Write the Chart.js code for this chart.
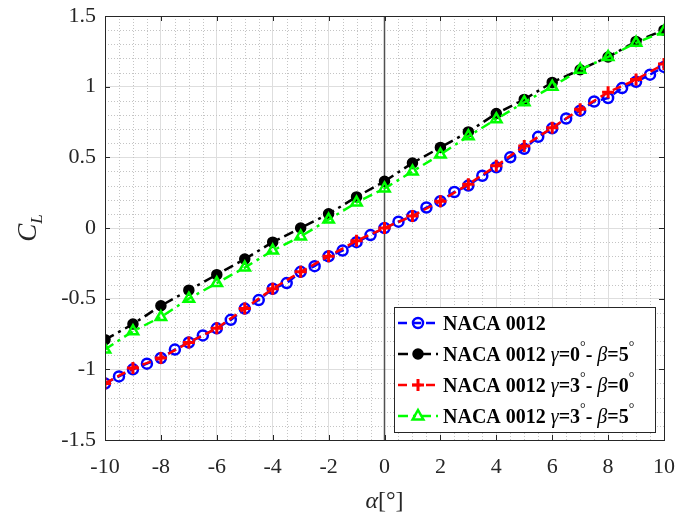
<!DOCTYPE html>
<html><head><meta charset="utf-8">
<script src="https://cdn.jsdelivr.net/npm/chart.js@4/dist/chart.umd.min.js"></script>
<style>html,body{margin:0;padding:0;background:#fff}#wrap{width:679px;height:520px;position:relative}</style>
</head><body><div id="wrap"><canvas id="c" width="679" height="520"></canvas></div>
<script>
// ---- data ----
const alphaHalf = [-10,-9.5,-9,-8.5,-8,-7.5,-7,-6.5,-6,-5.5,-5,-4.5,-4,-3.5,-3,-2.5,-2,-1.5,-1,-0.5,0,0.5,1,1.5,2,2.5,3,3.5,4,4.5,5,5.5,6,6.5,7,7.5,8,8.5,9,9.5,10];
const alphaInt = [-10,-9,-8,-7,-6,-5,-4,-3,-2,-1,0,1,2,3,4,5,6,7,8,9,10];
const clNaca = [-1.10,-1.05,-1.00,-0.96,-0.92,-0.86,-0.81,-0.76,-0.71,-0.65,-0.57,-0.51,-0.43,-0.39,-0.31,-0.27,-0.20,-0.16,-0.10,-0.05,0.00,0.045,0.085,0.145,0.19,0.255,0.30,0.37,0.43,0.50,0.56,0.645,0.705,0.775,0.83,0.895,0.92,0.99,1.035,1.085,1.14];
const clG0B5 = [-0.79,-0.68,-0.55,-0.44,-0.33,-0.22,-0.10,0.00,0.10,0.22,0.33,0.46,0.57,0.68,0.81,0.91,1.03,1.12,1.21,1.32,1.40];
const clG3B0 = [-1.10,-0.99,-0.92,-0.81,-0.71,-0.57,-0.43,-0.31,-0.20,-0.09,0.00,0.085,0.19,0.31,0.44,0.58,0.71,0.84,0.96,1.05,1.16];
const clG3B5 = [-0.86,-0.73,-0.63,-0.50,-0.39,-0.28,-0.16,-0.06,0.06,0.18,0.28,0.40,0.52,0.65,0.77,0.89,1.00,1.12,1.21,1.31,1.39];
const seriesLabels = ['NACA 0012','NACA 0012 γ=0°- β=5°','NACA 0012 γ=3°- β=0°','NACA 0012 γ=3°- β=5°'];
const xTicks = [-10,-8,-6,-4,-2,0,2,4,6,8,10];
const xTickLabels = ['-10','-8','-6','-4','-2','0','2','4','6','8','10'];
const yTicks = [-1.5,-1,-0.5,0,0.5,1,1.5];
const yTickLabels = ['-1.5','-1','-0.5','0','0.5','1','1.5'];
const xMinorStep = 0.5, yMinorStep = 0.1;

const SERIF = '"Liberation Serif", "DejaVu Serif", serif';
const AX = '#262626';

function pts(xs, ys){ return xs.map((x,i)=>({x:x, y:ys[i]})); }

function drawMarker(ctx, style, r, x, y, fill, stroke, lw){
  ctx.save();
  ctx.lineWidth = lw; ctx.strokeStyle = stroke; ctx.fillStyle = fill; ctx.setLineDash([]);
  ctx.beginPath();
  if (style === 'circle'){ ctx.arc(x,y,r,0,Math.PI*2); ctx.fill(); ctx.stroke(); }
  else if (style === 'triangle'){
    ctx.moveTo(x, y - r); ctx.lineTo(x + r*0.9, y + r*0.6); ctx.lineTo(x - r*0.9, y + r*0.6); ctx.closePath();
    ctx.fill(); ctx.stroke();
  } else if (style === 'cross'){
    ctx.moveTo(x - r, y); ctx.lineTo(x + r, y); ctx.moveTo(x, y - r); ctx.lineTo(x, y + r); ctx.stroke();
  }
  ctx.restore();
}

function drawRich(ctx, text, x, y){
  let cx = x;
  for (const ch of text){
    if ('γβα'.includes(ch)){
      ctx.font = 'italic 20px ' + SERIF;
      ctx.fillText(ch, cx, y);
      cx += ctx.measureText(ch).width;
    } else if (ch === '°'){
      ctx.font = '14px ' + SERIF;
      ctx.fillText(ch, cx, y - 10);
      cx += ctx.measureText(ch).width;
    } else {
      ctx.font = 'bold 20px ' + SERIF;
      ctx.fillText(ch, cx, y);
      cx += ctx.measureText(ch).width;
    }
  }
}

const decorPlugin = {
  id: 'decor',
  beforeDatasetsDraw(chart){
    const {ctx, chartArea:a, scales:{x, y}} = chart;
    ctx.save();
    ctx.strokeStyle = '#c4c4c4'; ctx.lineWidth = 1; ctx.setLineDash([1,2]);
    for (let v = -10; v <= 10.0001; v += xMinorStep){
      if (xTicks.some(t => Math.abs(t - v) < 1e-6)) continue;
      const px = Math.round(x.getPixelForValue(v)) + 0.5;
      ctx.beginPath(); ctx.moveTo(px, a.top); ctx.lineTo(px, a.bottom); ctx.stroke();
    }
    for (let k = -15; k <= 15; k++){
      const v = k * yMinorStep;
      if (yTicks.some(t => Math.abs(t - v) < 1e-6)) continue;
      const py = Math.round(y.getPixelForValue(v)) + 0.5;
      ctx.beginPath(); ctx.moveTo(a.left, py); ctx.lineTo(a.right, py); ctx.stroke();
    }
    ctx.setLineDash([]);
    const zx = x.getPixelForValue(0);
    ctx.strokeStyle = '#505050'; ctx.lineWidth = 1.5;
    ctx.beginPath(); ctx.moveTo(zx, a.top); ctx.lineTo(zx, a.bottom); ctx.stroke();
    ctx.restore();
  },
  afterDatasetsDraw(chart){
    const {ctx, chartArea:a, scales:{x, y}} = chart;
    ctx.save();
    ctx.strokeStyle = AX; ctx.lineWidth = 1;
    ctx.strokeRect(Math.round(a.left)+0.5, Math.round(a.top)+0.5, Math.round(a.right-a.left), Math.round(a.bottom-a.top));
    const tl = 5;
    ctx.beginPath();
    xTicks.forEach(v => {
      const px = Math.round(x.getPixelForValue(v)) + 0.5;
      ctx.moveTo(px, a.bottom); ctx.lineTo(px, a.bottom - tl);
      ctx.moveTo(px, a.top); ctx.lineTo(px, a.top + tl);
    });
    yTicks.forEach(v => {
      const py = Math.round(y.getPixelForValue(v)) + 0.5;
      ctx.moveTo(a.left, py); ctx.lineTo(a.left + tl, py);
      ctx.moveTo(a.right, py); ctx.lineTo(a.right - tl, py);
    });
    ctx.stroke();
    ctx.restore();
  },
  afterDraw(chart){
    const {ctx, chartArea:a} = chart;
    ctx.save();
    const bx = 394, by = 307, bw = 261, bh = 125;
    ctx.fillStyle = '#fff'; ctx.fillRect(bx, by, bw, bh);
    ctx.strokeStyle = AX; ctx.lineWidth = 1; ctx.strokeRect(bx + 0.5, by + 0.5, bw, bh);
    chart.data.datasets.forEach((ds, i) => {
      const cy = by + 16 + i * 31;
      ctx.save();
      ctx.strokeStyle = ds.borderColor; ctx.lineWidth = ds.borderWidth; ctx.setLineDash(ds.borderDash);
      ctx.beginPath(); ctx.moveTo(bx + 4, cy); ctx.lineTo(bx + 44, cy); ctx.stroke();
      ctx.restore();
      drawMarker(ctx, ds.pointStyle, ds.pointRadius, bx + 24, cy, ds.pointBackgroundColor, ds.pointBorderColor, ds.pointBorderWidth);
      ctx.fillStyle = '#000'; ctx.textBaseline = 'alphabetic'; ctx.textAlign = 'left';
      drawRich(ctx, ds.label, bx + 49, cy + 7);
    });
    ctx.fillStyle = AX; ctx.textBaseline = 'alphabetic'; ctx.textAlign = 'left';
    ctx.font = 'italic 24px ' + SERIF; const wA = ctx.measureText('α').width;
    ctx.font = '24px ' + SERIF; const wB = ctx.measureText('[°]').width;
    const cxT = (a.left + a.right) / 2; let sx = cxT - (wA + wB) / 2;
    ctx.font = 'italic 24px ' + SERIF; ctx.fillText('α', sx, 508);
    ctx.font = '24px ' + SERIF; ctx.fillText('[°]', sx + wA, 508);
    ctx.translate(36, (a.top + a.bottom) / 2);
    ctx.rotate(-Math.PI / 2);
    ctx.font = 'italic 27px ' + SERIF; const wC = ctx.measureText('C').width;
    ctx.font = 'italic 17px ' + SERIF; const wL = ctx.measureText('L').width;
    const s0 = -(wC + wL) / 2;
    ctx.font = 'italic 27px ' + SERIF; ctx.fillText('C', s0, 0);
    ctx.font = 'italic 17px ' + SERIF; ctx.fillText('L', s0 + wC, 6);
    ctx.restore();
  }
};

new Chart(document.getElementById('c'), {
  type: 'line',
  data: {
    datasets: [
      { label: seriesLabels[0], data: pts(alphaHalf, clNaca), borderColor: '#0000ff', borderWidth: 2.5, borderDash: [9,5],
        pointStyle: 'circle', pointRadius: 5, pointBackgroundColor: 'rgba(255,255,255,0)', pointBorderColor: '#0000ff', pointBorderWidth: 2.5, order: 4 },
      { label: seriesLabels[1], data: pts(alphaInt, clG0B5), borderColor: '#000000', borderWidth: 2.5, borderDash: [10,5,3,5],
        pointStyle: 'circle', pointRadius: 5, pointBackgroundColor: '#000000', pointBorderColor: '#000000', pointBorderWidth: 1.5, order: 3 },
      { label: seriesLabels[2], data: pts(alphaInt, clG3B0), borderColor: '#ff0000', borderWidth: 2.5, borderDash: [9,5],
        pointStyle: 'cross', pointRadius: 6, pointBackgroundColor: '#ff0000', pointBorderColor: '#ff0000', pointBorderWidth: 3, order: 2 },
      { label: seriesLabels[3], data: pts(alphaInt, clG3B5), borderColor: '#00ff00', borderWidth: 2.5, borderDash: [10,5,3,5],
        pointStyle: 'triangle', pointRadius: 6, pointBackgroundColor: 'rgba(255,255,255,0)', pointBorderColor: '#00ff00', pointBorderWidth: 2.5, order: 1 }
    ]
  },
  options: {
    responsive: false, animation: false, devicePixelRatio: 1,
    layout: { padding: { left: 0, top: 16, right: 15, bottom: 0 } },
    elements: { line: { tension: 0, fill: false } },
    plugins: { legend: { display: false }, tooltip: { enabled: false } },
    scales: {
      x: {
        type: 'linear', min: -10, max: 10,
        afterBuildTicks: s => { s.ticks = xTicks.map(v => ({ value: v })); },
        ticks: { callback: (v, i) => xTickLabels[i], color: AX, font: { family: SERIF, size: 22 }, padding: 14, maxRotation: 0, autoSkip: false },
        grid: { color: '#dedede', lineWidth: 1, drawTicks: false },
        border: { display: false },
        afterFit: s => { s.height = 80; s.paddingLeft = 0; s.paddingRight = 0; }
      },
      y: {
        type: 'linear', min: -1.5, max: 1.5,
        afterBuildTicks: s => { s.ticks = yTicks.map(v => ({ value: v })); },
        ticks: { callback: (v, i) => yTickLabels[i], color: AX, font: { family: SERIF, size: 22 }, padding: 9, autoSkip: false },
        grid: { color: '#dedede', lineWidth: 1, drawTicks: false },
        border: { display: false },
        afterFit: s => { s.width = 105; s.paddingTop = 0; s.paddingBottom = 0; }
      }
    }
  },
  plugins: [decorPlugin]
});
</script>
</body></html>
